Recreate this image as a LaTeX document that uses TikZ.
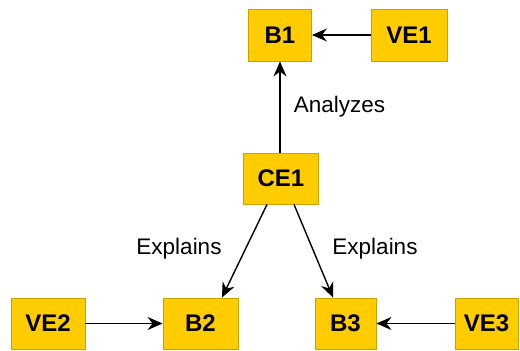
\documentclass[tikz,border=0pt]{standalone}
\usepackage{fontspec}
\setmainfont{Liberation Sans}
\usetikzlibrary{arrows.meta,calc}
\definecolor{boxfill}{HTML}{FFCC00}
\definecolor{boxline}{HTML}{C9A200}
\tikzset{
  entity/.style={draw=boxline, line width=0.9pt, fill=boxfill, minimum height=51pt,
    inner sep=0pt, font=\bfseries\fontsize{24}{26}\selectfont},
  link/.style={draw=black, line width=1.4pt, -{Stealth[length=15pt,width=13pt,inset=5pt]}},
  relname/.style={font=\fontsize{22.5}{24}\selectfont, inner sep=0pt}
}
\begin{document}
\begin{tikzpicture}[x=1pt,y=-1pt]
  \useasboundingbox (0,0) rectangle (520,351);
  % entity boxes
  \node[entity, minimum width=63pt, minimum height=52pt] (B1)  at (280,35)    {B1};
  \node[entity, minimum width=76pt, minimum height=52pt] (VE1) at (409,35)    {VE1};
  \node[entity, minimum width=75pt] (CE1) at (281,178.5) {CE1};
  \node[entity, minimum width=74pt] (VE2) at (48,323.5)  {VE2};
  \node[entity, minimum width=75pt] (B2)  at (200.5,323.5) {B2};
  \node[entity, minimum width=61pt] (B3)  at (345.5,323.5) {B3};
  \node[entity, minimum width=63pt] (VE3) at (486.5,323.5) {VE3};
  % relations
  \draw[link] (VE1.west) -- (B1.east);
  \draw[link] (CE1.north -| B1.south) -- (B1.south);
  \draw[link] ($(CE1.south)+(-14,0)$) -- ($(B2.north)+(21.5,0)$);
  \draw[link] ($(CE1.south)+(13,0)$) -- ($(B3.north)+(-12.5,0)$);
  \draw[link] (VE2.east) -- (B2.west);
  \draw[link] (VE3.west) -- (B3.east);
  % relation names
  \node[relname] (lA)  at (339.5,107) {Analyzes};
  \node[relname] (lE1) at (179,249) {Explains};
  \node[relname] (lE2) at (375,249) {Explains};
\end{tikzpicture}
\end{document}
